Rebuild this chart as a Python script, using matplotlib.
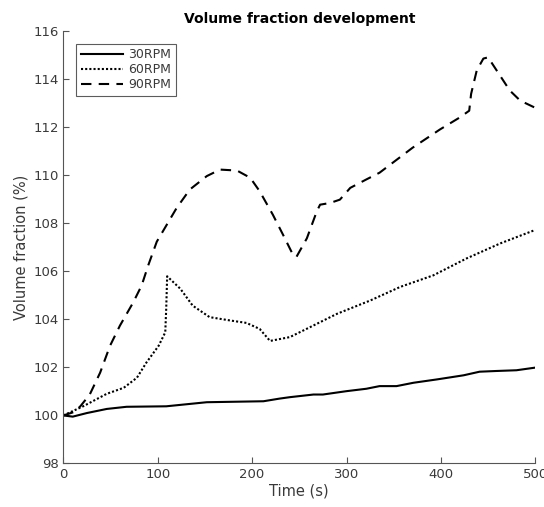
import matplotlib
matplotlib.use("Agg")
import matplotlib.pyplot as plt

# --- Volume fraction (%) over time for three stirring speeds
t_30 = [0, 10, 25, 46, 67, 109, 152, 212, 229, 240, 265, 275, 300, 321, 335,
        353, 371, 396, 424, 441, 459, 480, 500]
vf_30 = [100.0, 99.95, 100.1, 100.27, 100.36, 100.38, 100.55, 100.59, 100.7,
         100.76, 100.87, 100.87, 101.01, 101.11, 101.22, 101.22, 101.36, 101.5,
         101.67, 101.82, 101.85, 101.88, 101.99]

t_60 = [0, 21, 46, 64, 78, 88, 101, 108, 109, 110, 124, 137, 155, 177, 194,
        208, 219, 240, 254, 290, 325, 357, 392, 427, 463, 500]
vf_60 = [100.0, 100.38, 100.9, 101.15, 101.57, 102.2, 102.9, 103.46, 104.44,
         105.79, 105.27, 104.57, 104.09, 103.95, 103.85, 103.6, 103.1, 103.26,
         103.53, 104.23, 104.78, 105.35, 105.83, 106.53, 107.16, 107.72]

t_90 = [0, 12, 18, 28, 39, 49.5, 60, 74, 83, 90, 99, 109.5, 120, 134, 152, 166,
        184, 198, 208, 222, 233, 243.5, 247, 258, 268.5, 272, 282.5, 293, 304,
        321, 335, 370, 399, 420, 430, 432, 438, 445, 450, 459, 473, 484, 500]
vf_90 = [100.0, 100.15, 100.38, 100.87, 101.78, 102.9, 103.74, 104.7, 105.41,
         106.25, 107.23, 107.93, 108.63, 109.4, 109.96, 110.23, 110.19, 109.89,
         109.33, 108.35, 107.5, 106.67, 106.6, 107.37, 108.49, 108.77, 108.84,
         108.98, 109.47, 109.82, 110.1, 111.14, 111.9, 112.4, 112.68, 113.38,
         114.36, 114.85, 114.9, 114.36, 113.52, 113.1, 112.8]

x_ticks = [0, 100, 200, 300, 400, 500]
y_ticks = [98, 100, 102, 104, 106, 108, 110, 112, 114, 116]

# --- Figure
fig = plt.figure(figsize=(5.44, 5.07), dpi=100)
ax = fig.add_axes([0.1164, 0.0858, 0.8676, 0.8532])

ax.plot(t_30, vf_30, color="black", linewidth=1.5, linestyle="-", label="30RPM")
ax.plot(t_60, vf_60, color="black", linewidth=1.5, linestyle=(0, (1, 1)), label="60RPM")
ax.plot(t_90, vf_90, color="black", linewidth=1.5, linestyle=(0, (5, 3.5)), label="90RPM")

ax.set_xlim(0, 500)
ax.set_ylim(98, 116)
ax.set_xticks(x_ticks)
ax.set_yticks(y_ticks)

tick_grey = "#3a3a3a"
for side in ("top", "right"):
    ax.spines[side].set_visible(False)
for side in ("left", "bottom"):
    ax.spines[side].set_color("#555555")
    ax.spines[side].set_linewidth(0.8)
ax.tick_params(direction="in", length=4, width=0.8, color="#555555",
               labelcolor=tick_grey, labelsize=9.5, pad=3)

ax.set_title("Volume fraction development", fontsize=10, fontweight="bold", pad=6)
ax.set_xlabel("Time (s)", fontsize=10.5, color=tick_grey, labelpad=2)
ax.set_ylabel("Volume fraction (%)", fontsize=10.5, color=tick_grey, labelpad=4)

leg = ax.legend(loc="upper left", fontsize=9, frameon=True, fancybox=False,
                handlelength=3.4, borderaxespad=1.05, labelspacing=0.15,
                handletextpad=0.4, borderpad=0.35)
leg.get_frame().set_edgecolor("#333333")
leg.get_frame().set_linewidth(0.8)
for txt in leg.get_texts():
    txt.set_color(tick_grey)

fig.savefig("out.png", dpi=100)
